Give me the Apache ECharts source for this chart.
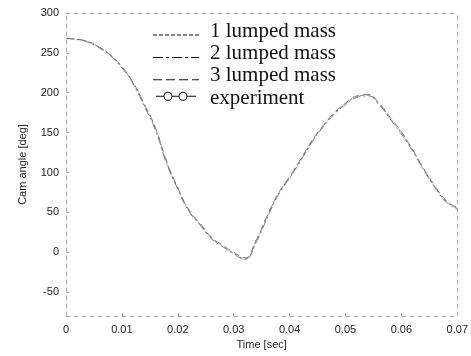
<!DOCTYPE html>
<html><head><meta charset="utf-8">
<script src="https://cdn.jsdelivr.net/npm/echarts@6/dist/echarts.min.js"></script>
<style>html,body{margin:0;padding:0;background:#fff}#c{width:471px;height:356px}</style>
</head><body><div id="c"></div>
<script>
var time = [0,0.002,0.004,0.006,0.008,0.010,0.012,0.014,0.016,0.018,0.020,0.022,0.024,0.026,0.028,0.030,0.032,0.034,0.036,0.038,0.040,0.042,0.044,0.046,0.048,0.050,0.052,0.054,0.056,0.058,0.060,0.062,0.064,0.066,0.068,0.070];
var mass1 = [268,267,264,257,247,232,212,185,155,113,80,52,35,18,8,-1,-8,14,45,73,94,116,139,158,174,186,195,197,186,168,150,128,104,82,64,55];
var mass2 = [268,267,263,256,246,231,211,183,153,111,79,51,34,17,7,-2,-9,12,43,72,93,115,138,157,173,185,194,196,185,167,148,127,103,81,63,54];
var mass3 = [268,267,264,257,247,233,213,186,156,114,81,53,36,19,9,0,-7,15,46,74,95,117,140,159,175,187,196,198,187,169,151,129,105,83,65,56];
var experiment = [268,266,263,256,246,232,212,184,155,112,80,52,35,18,8,-2,-10,13,44,72,93,114,137,157,174,186,195,197,185,167,149,127,103,81,63,55];
var yTicks = [-50,0,50,100,150,200,250,300];
var xTicks = [0,0.01,0.02,0.03,0.04,0.05,0.06,0.07];
var seriesNames = ['1 lumped mass','2 lumped mass','3 lumped mass','experiment'];

function pairs(arr){ return time.map(function(t,i){ return [t, arr[i]]; }); }
// legend icon paths (46 x 14 box)
var W = 46, H = 14;
function corners(){ return 'M0,0L0.01,0L0.01,0.01Z M'+W+','+H+'L'+(W-0.01)+','+H+'L'+(W-0.01)+','+(H-0.01)+'Z '; }
function dashIcon(pattern, y){
  var p = 'path://' + corners(); var x = 0, i = 0;
  while (x < W) {
    var len = pattern[i % pattern.length];
    if (i % 2 === 0) { var e = Math.min(W, x + len); p += 'M'+x+','+(y-0.5)+'L'+e+','+(y-0.5)+'L'+e+','+(y+0.5)+'L'+x+','+(y+0.5)+'Z '; }
    x += len; i++;
  }
  return p;
}
function ring(cx, cy, r, t){
  return 'M'+(cx-r)+','+cy+'A'+r+','+r+' 0 1,0 '+(cx+r)+','+cy+'A'+r+','+r+' 0 1,0 '+(cx-r)+','+cy+'Z '+
         'M'+(cx-r+t)+','+cy+'A'+(r-t)+','+(r-t)+' 0 1,1 '+(cx+r-t)+','+cy+'A'+(r-t)+','+(r-t)+' 0 1,1 '+(cx-r+t)+','+cy+'Z ';
}
function seg(x0, x1, y){ return 'M'+x0+','+(y-0.5)+'L'+x1+','+(y-0.5)+'L'+x1+','+(y+0.5)+'L'+x0+','+(y+0.5)+'Z '; }
var expIcon = 'path://' + corners() + seg(3,10.5,5) + ring(15,5,4.5,1) + seg(19.5,25.5,5) + ring(30,5,4.5,1) + seg(34.5,43,5);

var dashed = {type:[4,4], color:'#aaa', width:1};
var chart = echarts.init(document.getElementById('c'));
chart.setOption({
  animation:false,
  grid:{left:66, right:7, top:13, bottom:40},
  legend:{
    orient:'vertical', left:148, top:15, itemGap:0.4, itemWidth:W, itemHeight:H,
    textStyle:{fontFamily:'Liberation Serif', fontSize:21, lineHeight:22, color:'#111', padding:[0,0,0,6]},
    data:[
      {name:seriesNames[0], icon:dashIcon([4,2],11), itemStyle:{color:'#111', borderWidth:0}},
      {name:seriesNames[1], icon:dashIcon([10,3,3,3],11), itemStyle:{color:'#111', borderWidth:0}},
      {name:seriesNames[2], icon:dashIcon([9,4],11), itemStyle:{color:'#111', borderWidth:0}},
      {name:seriesNames[3], icon:expIcon, itemStyle:{color:'#111', borderWidth:0}}
    ]
  },
  xAxis:[{
    type:'value', min:0, max:0.07, position:'bottom',
    name:'Time [sec]', nameLocation:'middle', nameGap:22,
    nameTextStyle:{fontFamily:'Liberation Sans', fontSize:11, color:'#222'},
    axisLine:{show:true, onZero:false, lineStyle:dashed},
    axisTick:{show:true, inside:true, length:3, lineStyle:{color:'#aaa'}, customValues:xTicks},
    axisLabel:{customValues:xTicks, fontFamily:'Liberation Sans', fontSize:11, color:'#222', margin:8,
      formatter:function(v){ return v===0 ? '0' : v.toFixed(2); }},
    splitLine:{show:false}
  },{
    type:'value', min:0, max:0.07, position:'top',
    axisLine:{show:true, onZero:false, lineStyle:dashed}, axisTick:{show:false}, axisLabel:{show:false}, splitLine:{show:false}
  }],
  yAxis:[{
    type:'value', min:-80, max:300, position:'left',
    name:'Cam angle [deg]', nameLocation:'middle', nameGap:38, nameRotate:90,
    nameTextStyle:{fontFamily:'Liberation Sans', fontSize:11, color:'#222'},
    axisLine:{show:true, onZero:false, lineStyle:dashed},
    axisTick:{show:true, inside:true, length:3, lineStyle:{color:'#aaa'}, customValues:yTicks},
    axisLabel:{customValues:yTicks, fontFamily:'Liberation Sans', fontSize:11, color:'#222', margin:7},
    splitLine:{show:false}
  },{
    type:'value', min:-80, max:300, position:'right',
    axisLine:{show:true, onZero:false, lineStyle:dashed}, axisTick:{show:false}, axisLabel:{show:false}, splitLine:{show:false}
  }],
  series:[
    {name:seriesNames[0], type:'line', data:pairs(mass1), showSymbol:false, symbol:'none', smooth:true,
      lineStyle:{color:'#666', width:0.8, type:[3,3]}, itemStyle:{color:'#666'}},
    {name:seriesNames[1], type:'line', data:pairs(mass2), showSymbol:false, symbol:'none', smooth:true,
      lineStyle:{color:'#666', width:0.8, type:[8,3,2,3]}, itemStyle:{color:'#666'}},
    {name:seriesNames[2], type:'line', data:pairs(mass3), showSymbol:false, symbol:'none', smooth:true,
      lineStyle:{color:'#666', width:0.8, type:[7,4]}, itemStyle:{color:'#666'}},
    {name:seriesNames[3], type:'line', data:pairs(experiment), showSymbol:false, symbol:'emptyCircle', symbolSize:8, smooth:true,
      lineStyle:{color:'#999', width:0.8, type:[1,4]}, itemStyle:{color:'#222', borderColor:'#222'}}
  ]
});
</script></body></html>
